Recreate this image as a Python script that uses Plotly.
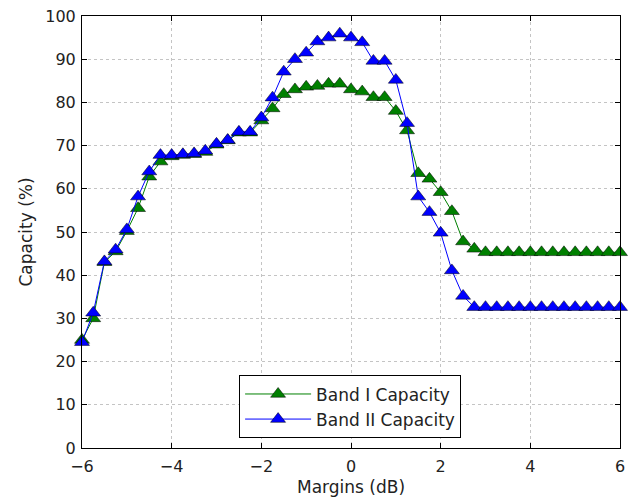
import plotly.graph_objects as go

margins_db = [-6 + 0.25 * i for i in range(49)]

band1 = [25, 30, 43, 45.5, 50.2, 55.5, 62.8, 66.3, 67.5, 67.8, 68, 68.5, 70.2, 71.2, 73, 73, 75.8, 78.6, 81.9, 83.0, 83.6, 83.8, 84.3, 84.3, 83.0, 82.5, 81.2, 81.2, 78.0, 73.5, 63.6, 62.3, 59.2, 54.8, 47.8, 46.1,
         45.3, 45.3, 45.3, 45.3, 45.3, 45.3, 45.3, 45.3, 45.3, 45.3, 45.3, 45.3, 45.3]
band2 = [24.5, 31.3, 43.2, 45.9, 50.6, 58.2, 64.0, 67.8, 67.8, 68, 68.2, 68.8, 70.4, 71.3, 73.2, 73.2, 76.5, 81.1, 87.1, 90.0, 91.5, 94.1, 95.0, 95.9, 95.0, 93.9, 89.6, 89.6, 85.2, 75.2, 58.2, 54.6, 49.8, 41.1, 35.2, 32.6,
         32.6, 32.6, 32.6, 32.6, 32.6, 32.6, 32.6, 32.6, 32.6, 32.6, 32.6, 32.6, 32.6]

series_names = ["Band I Capacity", "Band II Capacity"]
series_colors = ["#008000", "#0000ff"]
x_ticks = [-6, -4, -2, 0, 2, 4, 6]
y_ticks = [0, 10, 20, 30, 40, 50, 60, 70, 80, 90, 100]

FONT = "DejaVu Sans"

fig = go.Figure()
for name, ys, col in zip(series_names, [band1, band2], series_colors):
    fig.add_trace(go.Scatter(
        x=margins_db, y=ys, name=name, mode="lines+markers",
        line=dict(color=col, width=1),
        marker=dict(symbol="triangle-up", size=13, color=col,
                    line=dict(color="#000000", width=0.5)),
        cliponaxis=False,
    ))

axis_common = dict(
    showline=True, linecolor="#000000", linewidth=1, mirror="ticks",
    ticks="inside", ticklen=5, tickcolor="#000000",
    showgrid=True, gridcolor="#c4c4c4", griddash="dot", gridwidth=1,
    zeroline=False, automargin=False,
    tickfont=dict(family=FONT, size=16, color="#222222"),
)

fig.update_layout(
    width=636, height=500,
    margin=dict(l=82, r=16, t=16, b=52),
    paper_bgcolor="white", plot_bgcolor="white",
    font=dict(family=FONT, color="#222222"),
    xaxis=dict(range=[-6, 6], tickvals=x_ticks, ticklabelstandoff=4,
               title=dict(text="Margins (dB)", font=dict(family=FONT, size=17), standoff=5),
               **axis_common),
    yaxis=dict(range=[0, 100], tickvals=y_ticks, ticklabelstandoff=2,
               title=dict(text="Capacity (%)", font=dict(family=FONT, size=17), standoff=8),
               **axis_common),
    legend=dict(x=0.292, y=0.168, xanchor="left", yanchor="top",
                bordercolor="#000000", borderwidth=1, bgcolor="white",
                font=dict(family=FONT, size=17, color="#222222"),
                itemwidth=66, tracegroupgap=0),
    showlegend=True,
)

fig.write_html("out.html")
